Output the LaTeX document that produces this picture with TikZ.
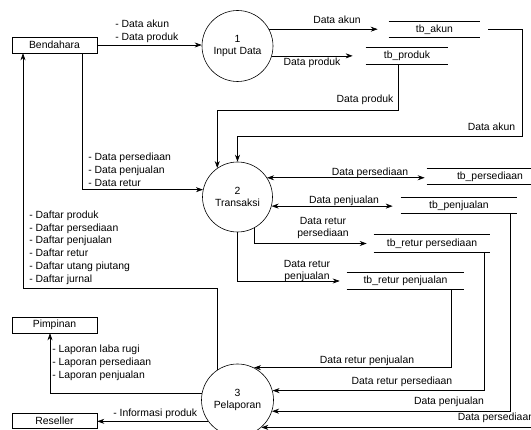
\documentclass[tikz,border=0pt]{standalone}
\usepackage{fontspec}
\setmainfont{Liberation Sans}
\usetikzlibrary{arrows.meta,calc}
\begin{document}
\begin{tikzpicture}[x=1pt,y=-1pt,
  font=\fontsize{10.4}{12.8}\selectfont,
  line width=0.6pt,
  >={Stealth[length=7pt,width=5pt]},
  ent/.style={draw, minimum width=85pt, minimum height=16pt, inner sep=0pt},
  proc/.style={draw, circle, inner sep=0pt, align=center},
  store/.style={inner sep=0pt, append after command={
      (\tikzlastnode.north west) edge[-] (\tikzlastnode.north east)
      (\tikzlastnode.south west) edge[-] (\tikzlastnode.south east)}},
  lbl/.style={inner sep=0pt, align=left},
  lblc/.style={inner sep=0pt, align=center}]
\useasboundingbox (0,0) rectangle (531,430);

% external entities
\node[ent] (bend) at (54.5,45) {Bendahara};
\node[ent] (pimp) at (54.5,325) {Pimpinan};
\node[ent, minimum height=15pt] (res) at (54.5,420.5) {Reseller};

% processes
\node[proc, minimum size=71pt] (c1) at (237.5,46) {1\\Input Data};
\node[proc, minimum size=70pt] (c2) at (237.5,197) {2\\Transaksi};
\node[proc, minimum size=72pt] (c3) at (237.5,400) {3\\Pelaporan};

% data stores
\node[store, minimum width=91pt, minimum height=15pt] (akun) at (434.5,29.5) {tb\_akun};
\node[store, minimum width=82pt, minimum height=16pt] (produk) at (407,56) {tb\_produk};
\node[store, minimum width=126pt, minimum height=15pt] (pers) at (490,176.5) {tb\_persediaan};
\node[store, minimum width=116pt, minimum height=15pt] (penj) at (459,205.5) {tb\_penjualan};
\node[store, minimum width=116pt, minimum height=17pt] (rpers) at (432,243.5) {tb\_retur persediaan};
\node[store, minimum width=117pt, minimum height=16pt] (rpenj) at (405.5,281) {tb\_retur penjualan};

% helper coordinates
\coordinate (dp) at (398,110);
\coordinate (ak1) at (522,29.5);
\coordinate (ak2) at (522,136);
\coordinate (bdx) at (82,60);
\coordinate (g2) at (23,288);

% connectors
\draw[->] (bend.east) -- (bend.east -| c1.west);
\draw[->, shorten >=11pt] (c1.28) -- (c1.28 -| akun.west);
\draw[->, shorten >=13pt] (c1.-16) -- (c1.-16 -| produk.west);
\draw[->] (produk.south -| dp) -- (dp) -| (c2.125);
\draw[->] ([xshift=8pt]akun.east) -- (ak1) -- (ak2) -| (c2.north);
\draw[->] (bend.south -| bdx) |- (c2.168);
\draw[->] (c3.124) |- (g2) -- (g2 |- bend.south);
\draw[<->, shorten >=2pt] (c2.33) -- (c2.33 -| pers.west);
\draw[<->, shorten >=8pt] (c2.-15) -- (c2.-15 -| penj.west);
\draw[->, shorten >=7pt] (c2.-61) |- (rpers.west);
\draw[->, shorten >=7pt] (c2.south) |- (rpenj.west);
\draw[->] ([xshift=45.5pt]rpenj.south) |- (c3.63);
\draw[->] ([xshift=52pt]rpers.south) |- (c3.15);
\draw[->] ([xshift=51pt]penj.south) |- (c3.-18);
\draw[->] ([xshift=50pt]pers.south) |- (c3.-49);
\draw[->] (c3.169) -| ([xshift=-4.5pt]pimp.south);
\draw[->] (c3.216) -- (c3.216 -| res.east);

% labels
\node[lbl, anchor=north west] (l1) at (115,19.6) {- Data akun\\- Data produk};
\node[lbl, anchor=base] (l2) at (337,24) {Data akun};
\node[lbl, anchor=base] (l3) at (312,66) {Data produk};
\node[lbl, anchor=base] (l4) at (365,103) {Data produk};
\node[lbl, anchor=base] (l5) at (491.5,131) {Data akun};
\node[lbl, anchor=north west] (l6) at (88,152.6) {- Data persediaan\\- Data penjualan\\- Data retur};
\node[lbl, anchor=north west] (l7) at (29,210.4) {- Daftar produk\\- Daftar persediaan\\- Daftar penjualan\\- Daftar retur\\- Daftar utang piutang\\- Daftar jurnal};
\node[lbl, anchor=base] (l8) at (370,176) {Data persediaan};
\node[lbl, anchor=base] (l9) at (344,204) {Data penjualan};
\node[lblc, anchor=north] (l10) at (323,216.6) {Data retur\\persediaan};
\node[lblc, anchor=north] (l11) at (307,259.6) {Data retur\\penjualan};
\node[lbl, anchor=base] (l12) at (367,364) {Data retur penjualan};
\node[lbl, anchor=base] (l13) at (402,385) {Data retur persediaan};
\node[lbl, anchor=base] (l14) at (449,405) {Data penjualan};
\node[lbl, anchor=base west] (l15) at (457.5,421) {Data persediaan};
\node[lbl, anchor=north west] (l16) at (52,344.6) {- Laporan laba rugi\\- Laporan persediaan\\- Laporan penjualan};
\node[lbl, anchor=base west] (l17) at (113,417) {- Informasi produk};
\end{tikzpicture}
\end{document}
